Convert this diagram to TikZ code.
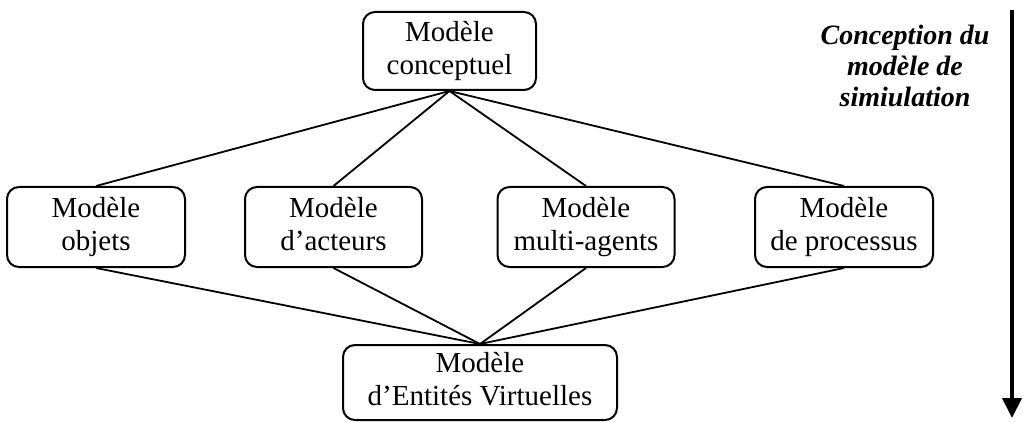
\documentclass[tikz,border=0pt]{standalone}
\usepackage{fontspec}
\setmainfont{Liberation Serif}
\usetikzlibrary{arrows.meta}
\tikzset{
  modele/.style={draw, line width=1pt, rounded corners=6pt, align=center,
    inner sep=0pt, minimum height=40pt, font=\fontsize{14.5}{16.5}\selectfont},
  lien/.style={line width=0.9pt}
}
\begin{document}
\begin{tikzpicture}[x=0.5pt,y=-0.5pt]
      \useasboundingbox (0,0) rectangle (1027,422);
      \draw
        (449.5,51) node[modele, minimum width=86.5pt, minimum height=39pt] (conc){\strut Modèle\\\strut conceptuel}
        (96,227) node[modele, minimum width=89pt] (obj){\strut Modèle\\\strut objets}
        (333.5,227) node[modele, minimum width=88.5pt] (act){\strut Modèle\\\strut d’acteurs}
        (586,227) node[modele, minimum width=88.5pt] (sma){\strut Modèle\\\strut multi-agents}
        (844,227) node[modele, minimum width=89pt] (proc){\strut Modèle\\\strut de processus}
        (480,382.5) node[modele, minimum width=137pt, minimum height=37.5pt] (ev){\strut Modèle\\\strut d’Entités Virtuelles};
      \node[align=center, font=\fontsize{14}{15.5}\selectfont\bfseries\itshape]
        (titre) at (905,66) {Conception du\\modèle de\\simiulation};
      \begin{scope}[lien]
        \draw (conc.south) to (obj.north);
        \draw (conc.south) to (act.north);
        \draw (conc.south) to (sma.north);
        \draw (conc.south) to (proc.north);
        \draw (obj.south) to (ev.north);
        \draw (act.south) to (ev.north);
        \draw (sma.south) to (ev.north);
        \draw (proc.south) to (ev.north);
      \end{scope}
      \coordinate (haut) at (1012,10);
      \coordinate (bas) at (1012,418);
      \draw[line width=2pt, -{Triangle[length=10pt,width=9.5pt]}] (haut) -- (bas);
    \end{tikzpicture}
\end{document}
